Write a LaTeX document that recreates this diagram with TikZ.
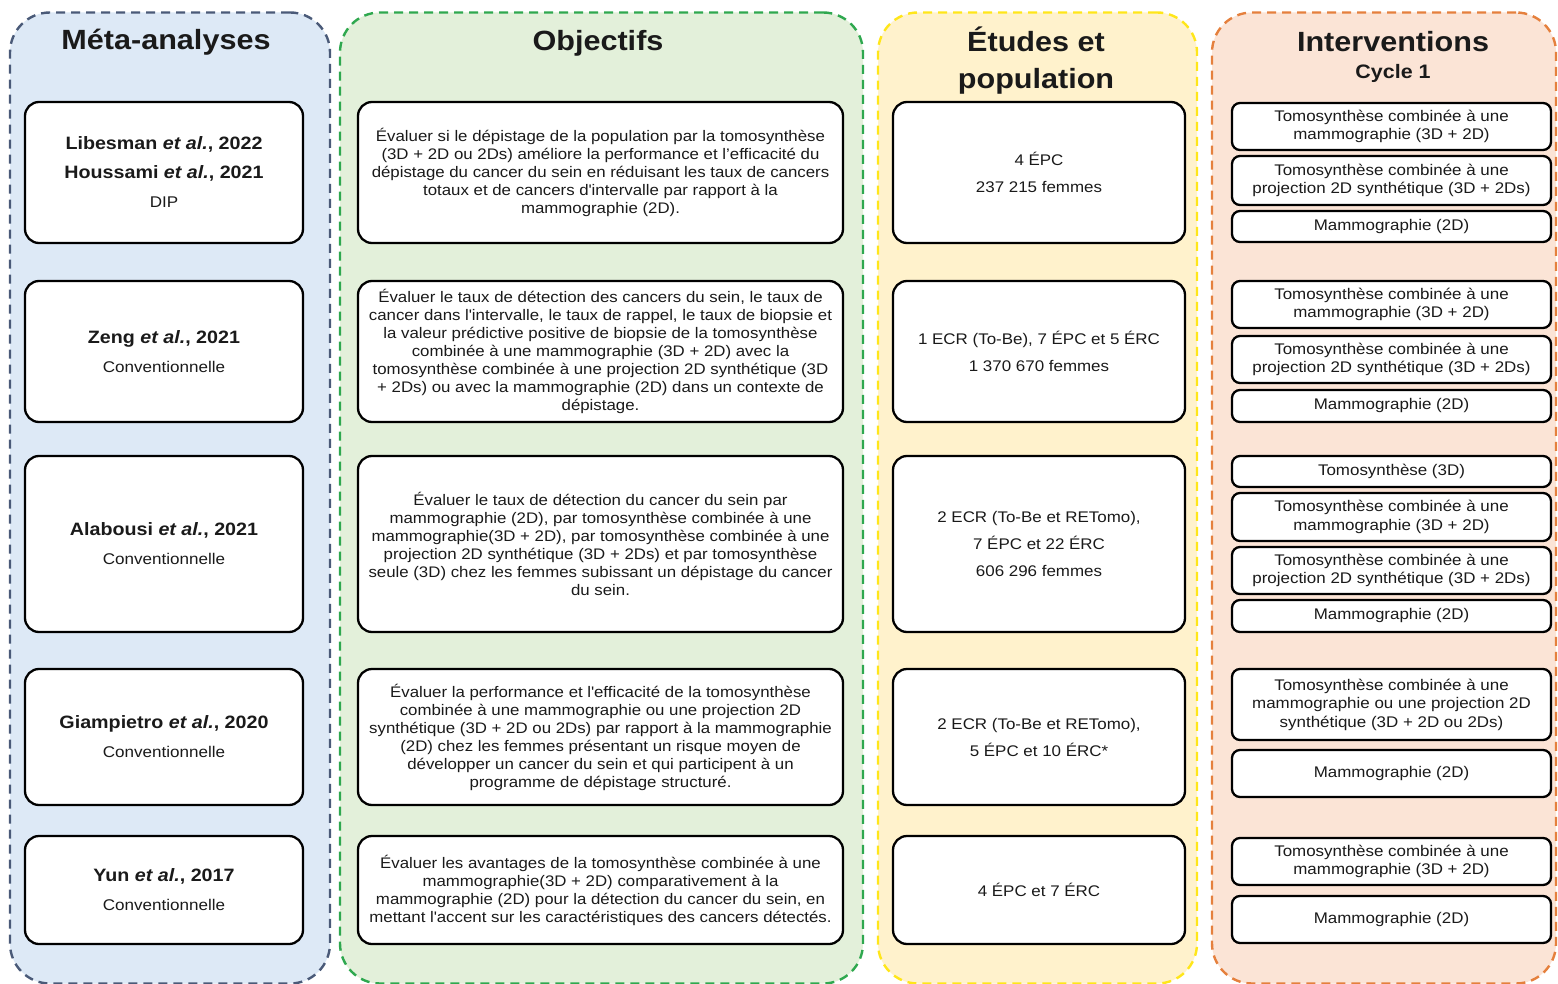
\documentclass[tikz,border=0pt]{standalone}
\usepackage{fontspec}
\setmainfont{Liberation Sans}[FakeStretch=1.1]
\definecolor{txtc}{HTML}{1A1A1A}
\definecolor{bluefill}{HTML}{DDE9F6}
\definecolor{bluedraw}{HTML}{4A5A78}
\definecolor{greenfill}{HTML}{E3F0DA}
\definecolor{greendraw}{HTML}{2FA84F}
\definecolor{yellowfill}{HTML}{FFF2CC}
\definecolor{yellowdraw}{HTML}{FFE61A}
\definecolor{orangefill}{HTML}{FBE4D6}
\definecolor{orangedraw}{HTML}{E5803D}
\newcommand\mytxt{\fontsize{15.3}{18}\selectfont}
\newcommand\myint{\fontsize{15.4}{18.5}\selectfont}
\newcommand\mymid{\fontsize{15.4}{27}\selectfont}
\newcommand\myref{\fontsize{17.9}{29}\selectfont\bfseries}
\newcommand\myhead{\fontsize{27.8}{37}\selectfont\bfseries}
\newcommand\sq{\textquotesingle}
\begin{document}
\begin{tikzpicture}[x=1pt,y=-1pt,
  colbox/.style={dashed, dash pattern=on 9pt off 6pt, line width=2.4pt, rounded corners=40pt, inner sep=0pt},
  ibox/.style={draw=black, line width=2.3pt, rounded corners=14pt, fill=white, align=center, inner sep=0pt, text=txtc},
  refbox/.style={ibox, minimum width=278pt, font=\fontsize{15.5}{29}\selectfont},
  objbox/.style={ibox, minimum width=485pt, font=\mytxt},
  popbox/.style={ibox, minimum width=292pt, font=\mymid},
  intbox/.style={ibox, minimum width=319pt, rounded corners=8pt, font=\myint},
  head/.style={align=center, text=txtc, font=\myhead, inner sep=0pt}
]
\useasboundingbox (0,0) rectangle (1558,984);
% containers
\node[colbox, draw=bluedraw, fill=bluefill, minimum width=320pt, minimum height=971pt] (c1) at (170,498) {};
\node[colbox, draw=greendraw, fill=greenfill, minimum width=523pt, minimum height=971pt] (c2) at (601.5,498) {};
\node[colbox, draw=yellowdraw, fill=yellowfill, minimum width=319pt, minimum height=971pt] (c3) at (1037.5,498) {};
\node[colbox, draw=orangedraw, fill=orangefill, minimum width=344pt, minimum height=971pt] (c4) at (1384,498) {};
% headers
\node[head] (h1) at (166,42) {Méta-analyses};
\node[head] (h2) at (598,43) {Objectifs};
\node[head] (h3) at (1036,61) {Études et\\population};
\node[head] (h4) at (1393,42) {Interventions};
\node[head, font=\fontsize{19.5}{24}\selectfont\bfseries] (h4b) at (1393,73) {Cycle 1};
% column 1
\node[refbox, minimum height=141pt] (m1) at (164,172.5) {{\myref Libesman \textit{et al.}, 2022}\\{\myref Houssami \textit{et al.}, 2021}\\DIP};
\node[refbox, minimum height=141pt] (m2) at (164,351.5) {{\myref Zeng \textit{et al.}, 2021}\\Conventionnelle};
\node[refbox, minimum height=176pt] (m3) at (164,544) {{\myref Alabousi \textit{et al.}, 2021}\\Conventionnelle};
\node[refbox, minimum height=136pt] (m4) at (164,737) {{\myref Giampietro \textit{et al.}, 2020}\\Conventionnelle};
\node[refbox, minimum height=108pt] (m5) at (164,890) {{\myref Yun \textit{et al.}, 2017}\\Conventionnelle};
% column 2
\node[objbox, minimum height=141pt] (o1) at (600.5,172.5) {Évaluer si le dépistage de la population par la tomosynthèse\\(3D + 2D ou 2Ds) améliore la performance et l’efficacité du\\dépistage du cancer du sein en réduisant les taux de cancers\\totaux et de cancers d\sq intervalle par rapport à la\\mammographie (2D).};
\node[objbox, minimum height=141pt] (o2) at (600.5,351.5) {Évaluer le taux de détection des cancers du sein, le taux de\\cancer dans l\sq intervalle, le taux de rappel, le taux de biopsie et\\la valeur prédictive positive de biopsie de la tomosynthèse\\combinée à une mammographie (3D + 2D) avec la\\tomosynthèse combinée à une projection 2D synthétique (3D\\+ 2Ds) ou avec la mammographie (2D) dans un contexte de\\dépistage.};
\node[objbox, minimum height=176pt] (o3) at (600.5,544) {Évaluer le taux de détection du cancer du sein par\\mammographie (2D), par tomosynthèse combinée à une\\mammographie(3D + 2D), par tomosynthèse combinée à une\\projection 2D synthétique (3D + 2Ds) et par tomosynthèse\\seule (3D) chez les femmes subissant un dépistage du cancer\\du sein.};
\node[objbox, minimum height=136pt] (o4) at (600.5,737) {Évaluer la performance et l\sq efficacité de la tomosynthèse\\combinée à une mammographie ou une projection 2D\\synthétique (3D + 2D ou 2Ds) par rapport à la mammographie\\(2D) chez les femmes présentant un risque moyen de\\développer un cancer du sein et qui participent à un\\programme de dépistage structuré.};
\node[objbox, minimum height=108pt] (o5) at (600.5,890) {Évaluer les avantages de la tomosynthèse combinée à une\\mammographie(3D + 2D) comparativement à la\\mammographie (2D) pour la détection du cancer du sein, en\\mettant l\sq accent sur les caractéristiques des cancers détectés.};
% column 3
\node[popbox, minimum height=141pt] (p1) at (1039,172.5) {4 ÉPC\\237 215 femmes};
\node[popbox, minimum height=141pt] (p2) at (1039,351.5) {1 ECR (To-Be), 7 ÉPC et 5 ÉRC\\1 370 670 femmes};
\node[popbox, minimum height=176pt] (p3) at (1039,544) {2 ECR (To-Be et RETomo),\\7 ÉPC et 22 ÉRC\\606 296 femmes};
\node[popbox, minimum height=136pt] (p4) at (1039,737) {2 ECR (To-Be et RETomo),\\5 ÉPC et 10 ÉRC*};
\node[popbox, minimum height=108pt] (p5) at (1039,890) {4 ÉPC et 7 ÉRC};
% column 4
\node[intbox, minimum height=47pt] (i1a) at (1391.5,126.5) {Tomosynthèse combinée à une\\mammographie (3D + 2D)};
\node[intbox, minimum height=49pt] (i1b) at (1391.5,180.5) {Tomosynthèse combinée à une\\projection 2D synthétique (3D + 2Ds)};
\node[intbox, minimum height=31pt] (i1c) at (1391.5,226.5) {Mammographie (2D)};
\node[intbox, minimum height=47pt] (i2a) at (1391.5,304.5) {Tomosynthèse combinée à une\\mammographie (3D + 2D)};
\node[intbox, minimum height=47pt] (i2b) at (1391.5,359.5) {Tomosynthèse combinée à une\\projection 2D synthétique (3D + 2Ds)};
\node[intbox, minimum height=32pt] (i2c) at (1391.5,406) {Mammographie (2D)};
\node[intbox, minimum height=31pt] (i3a) at (1391.5,471.5) {Tomosynthèse (3D)};
\node[intbox, minimum height=48pt] (i3b) at (1391.5,517) {Tomosynthèse combinée à une\\mammographie (3D + 2D)};
\node[intbox, minimum height=47pt] (i3c) at (1391.5,570.5) {Tomosynthèse combinée à une\\projection 2D synthétique (3D + 2Ds)};
\node[intbox, minimum height=32pt] (i3d) at (1391.5,616) {Mammographie (2D)};
\node[intbox, minimum height=71pt] (i4a) at (1391.5,704.5) {Tomosynthèse combinée à une\\mammographie ou une projection 2D\\synthétique (3D + 2D ou 2Ds)};
\node[intbox, minimum height=47pt] (i4b) at (1391.5,773.5) {Mammographie (2D)};
\node[intbox, minimum height=47pt] (i5a) at (1391.5,861.5) {Tomosynthèse combinée à une\\mammographie (3D + 2D)};
\node[intbox, minimum height=47pt] (i5b) at (1391.5,919.5) {Mammographie (2D)};
\end{tikzpicture}
\end{document}
